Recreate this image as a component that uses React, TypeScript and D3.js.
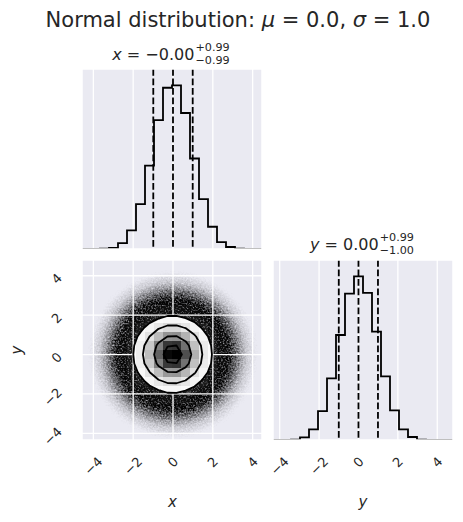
import React from "react";
import * as d3 from "d3";

// ---------------- data ----------------
const titleParts = ["Normal distribution: ", "μ", " = 0.0, ", "σ", " = 1.0"];
const paramNames = ["x", "y"];
const xRange = [-4.57, 4.47];
const yRange = [-4.34, 4.8];
const tickValues = [-4, -2, 0, 2, 4];
const xCounts = [0, 0, 30, 110, 650, 2040, 4900, 9120, 14090, 17620, 17880, 14860, 9890, 5450, 2430, 760, 220, 30, 0, 0];
const yCounts = [0, 0, 30, 290, 1170, 3160, 6760, 11520, 16060, 17950, 16130, 11880, 6980, 3240, 1170, 330, 30, 0, 0, 0];
const xQuantiles = [-0.99, 0.0, 0.99];
const yQuantiles = [-1.0, 0.0, 0.99];
const xTitleValues = ["−0.00", "+0.99", "−0.99"];
const yTitleValues = ["0.00", "+0.99", "−1.00"];
const sigmaLevels = [0.5, 1.0, 1.5, 2.0];
// scatter cloud opacity vs radius (data units)
const cloudRadius = [0, 2.5, 2.8, 3.1, 3.4, 3.7, 4.1, 4.6];
const cloudOpacity = [0.9, 0.9, 0.8, 0.56, 0.32, 0.15, 0.05, 0];

// ---------------- style / layout ----------------
const FONT = "'DejaVu Sans', sans-serif";
const TEXT = "#262626";
const BG = "#EAEAF2";
const NB = 20;
const S = 180;
const COLX = [82, 273];
const ROWY = [69, 260];

function measure(text: string, size: number, italic = false) {
  const c = document.createElement("canvas").getContext("2d")!;
  c.font = `${italic ? "italic " : ""}${size}px 'DejaVu Sans'`;
  return c.measureText(text).width;
}

function ParamTitle({ cx, baseline, name, vals }: any) {
  const fs = 16, fss = 11.2;
  const wName = measure(name, fs, true);
  const rest = ` = ${vals[0]}`;
  const wRest = measure(rest, fs);
  const wSup = measure(vals[1], fss);
  const wSub = measure(vals[2], fss);
  const total = wName + wRest + 1 + Math.max(wSup, wSub);
  const x0 = cx - total / 2;
  const xs = x0 + wName + wRest + 1;
  return (
    <g fontFamily={FONT} fill={TEXT}>
      <text x={x0} y={baseline} fontSize={fs}>
        <tspan fontStyle="italic">{name}</tspan>
        {rest}
      </text>
      <text x={xs} y={baseline - 9} fontSize={fss}>{vals[1]}</text>
      <text x={xs} y={baseline + 4} fontSize={fss}>{vals[2]}</text>
    </g>
  );
}

function Hist1D({ counts, range, quantiles, left, top, clipId }: any) {
  const xs = d3.scaleLinear().domain(range).range([left, left + S]);
  const ys = d3.scaleLinear().domain([0, 1.1 * (d3.max(counts) as number)]).range([top + S, top]);
  const bw = (range[1] - range[0]) / NB;
  const pts: [number, number][] = [[xs(range[0]), ys(0)]];
  counts.forEach((c: number, i: number) => {
    pts.push([xs(range[0] + i * bw), ys(c)]);
    pts.push([xs(range[0] + (i + 1) * bw), ys(c)]);
  });
  pts.push([xs(range[1]), ys(0)]);
  const line = d3.line();
  return (
    <g>
      <defs>
        <clipPath id={clipId}><rect x={left} y={top} width={S} height={S} /></clipPath>
      </defs>
      <rect x={left} y={top} width={S} height={S} fill={BG} />
      <g clipPath={`url(#${clipId})`}>
        {tickValues.map((t) => (
          <line key={t} x1={xs(t)} x2={xs(t)} y1={top} y2={top + S} stroke="#fff" strokeWidth={1.3} />
        ))}
        <path d={line(pts)!} fill="none" stroke="#000" strokeWidth={1.8} strokeLinejoin="miter" />
        {quantiles.map((q: number, i: number) => (
          <line key={i} x1={xs(q)} x2={xs(q)} y1={top} y2={top + S} stroke="#000" strokeWidth={1.8} strokeDasharray="6.7 2.8" />
        ))}
      </g>
      <rect x={left} y={top} width={S} height={S} fill="none" stroke="#fff" strokeWidth={1.5} />
    </g>
  );
}

function Hist2D() {
  const left = COLX[0], top = ROWY[1];
  const xs = d3.scaleLinear().domain(xRange).range([left, left + S]);
  const ys = d3.scaleLinear().domain(yRange).range([top + S, top]);
  const bwx = (xRange[1] - xRange[0]) / NB;
  const bwy = (yRange[1] - yRange[0]) / NB;
  // 2D histogram (independent marginals)
  const values: number[] = new Array(NB * NB);
  for (let j = 0; j < NB; j++) for (let i = 0; i < NB; i++) values[j * NB + i] = xCounts[i] * yCounts[j];
  const Hmax = d3.max(values) as number;
  // corner levels
  const levels = sigmaLevels.map((s) => 1 - Math.exp(-0.5 * s * s));
  const flat = values.slice().sort((a, b) => b - a);
  const tot = d3.sum(flat);
  let cum = 0;
  const sm = flat.map((v) => (cum += v) / tot);
  const V = levels.map((l) => {
    let last = flat[0];
    for (let k = 0; k < flat.length; k++) if (sm[k] <= l) last = flat[k];
    return last;
  }).sort((a, b) => a - b);
  const contours = d3.contours().size([NB, NB]).thresholds(V)(values);
  const toPath = (mp: any) =>
    mp.coordinates
      .map((poly: any) =>
        poly
          .map((ring: any) =>
            "M" + ring.map((p: number[]) => `${xs(xRange[0] + p[0] * bwx)},${ys(yRange[0] + p[1] * bwy)}`).join("L") + "Z"
          )
          .join("")
      )
      .join("");
  const cells: any[] = [];
  for (let j = 0; j < NB; j++)
    for (let i = 0; i < NB; i++) {
      const s = values[j * NB + i] / Hmax;
      if (s < 0.002) continue;
      const g = Math.round(255 * (1 - s));
      const x1 = xs(xRange[0] + i * bwx), x2 = xs(xRange[0] + (i + 1) * bwx);
      const y1 = ys(yRange[0] + (j + 1) * bwy), y2 = ys(yRange[0] + j * bwy);
      cells.push(<rect key={`${i}-${j}`} x={x1} y={y1} width={x2 - x1} height={y2 - y1} fill={`rgb(${g},${g},${g})`} fillOpacity={s} />);
    }
  const R = cloudRadius[cloudRadius.length - 1];
  return (
    <g>
      <defs>
        <clipPath id="clip2d"><rect x={left} y={top} width={S} height={S} /></clipPath>
        <radialGradient id="cloud" cx="0.5" cy="0.5" r="0.5">
          {cloudRadius.map((r, k) => (
            <stop key={k} offset={r / R} stopColor="#000" stopOpacity={cloudOpacity[k]} />
          ))}
        </radialGradient>
        <filter id="speckle" filterUnits="userSpaceOnUse" x={left} y={top} width={S} height={S} colorInterpolationFilters="sRGB">
          <feTurbulence type="fractalNoise" baseFrequency="0.6" numOctaves="2" seed="7" result="noise" />
          <feColorMatrix in="noise" type="matrix" values="0 0 0 0 0  0 0 0 0 0  0 0 0 0 0  1 0 0 0 0" result="na" />
          <feComposite in="SourceGraphic" in2="na" operator="arithmetic" k1="1.6" k2="0.2" k3="0" k4="0" result="mix" />
          <feComponentTransfer in="mix">
            <feFuncA type="linear" slope="1.15" intercept="-0.04" />
          </feComponentTransfer>
        </filter>
      </defs>
      <rect x={left} y={top} width={S} height={S} fill={BG} />
      <g clipPath="url(#clip2d)">
        <g filter="url(#speckle)">
          <rect x={xs(-R)} y={ys(R)} width={xs(R) - xs(-R)} height={ys(-R) - ys(R)} fill="url(#cloud)" />
        </g>
        {tickValues.map((t) => (
          <line key={"v" + t} x1={xs(t)} x2={xs(t)} y1={top} y2={top + S} stroke="#fff" strokeWidth={1.3} />
        ))}
        {tickValues.map((t) => (
          <line key={"h" + t} y1={ys(t)} y2={ys(t)} x1={left} x2={left + S} stroke="#fff" strokeWidth={1.3} />
        ))}
        <path d={toPath(contours[0])} fill="#fff" />
        {cells}
        {contours.map((c, k) => (
          <path key={k} d={toPath(c)} fill="none" stroke="#000" strokeWidth={1.8} strokeLinejoin="round" />
        ))}
      </g>
      <rect x={left} y={top} width={S} height={S} fill="none" stroke="#fff" strokeWidth={1.5} />
    </g>
  );
}

function XTickLabels({ scale, topY }: any) {
  const fs = 13;
  const h = fs * 1.16;
  return (
    <g fontFamily={FONT} fontSize={fs} fill={TEXT}>
      {tickValues.map((t) => {
        const label = d3.format("")(t).replace("-", "−");
        const w = measure(label, fs);
        const cx = scale(t);
        const cy = topY + (w + h) * 0.3536;
        return (
          <text key={t} x={cx} y={cy} textAnchor="middle" dominantBaseline="central" transform={`rotate(-45 ${cx} ${cy})`}>
            {label}
          </text>
        );
      })}
    </g>
  );
}

function YTickLabels({ scale, rightX }: any) {
  const fs = 13;
  const h = fs * 1.16;
  return (
    <g fontFamily={FONT} fontSize={fs} fill={TEXT}>
      {tickValues.map((t) => {
        const label = d3.format("")(t).replace("-", "−");
        const w = measure(label, fs);
        const cx = rightX - (w + h) * 0.3536;
        const cy = scale(t) + 3;
        return (
          <text key={t} x={cx} y={cy} textAnchor="middle" dominantBaseline="central" transform={`rotate(-45 ${cx} ${cy})`}>
            {label}
          </text>
        );
      })}
    </g>
  );
}

export default function App() {
  const xsBottom = d3.scaleLinear().domain(xRange).range([COLX[0], COLX[0] + S]);
  const ysLeft = d3.scaleLinear().domain(yRange).range([ROWY[1] + S, ROWY[1]]);
  const yHistX = d3.scaleLinear().domain(yRange).range([COLX[1], COLX[1] + S]);
  return (
    <svg width={463} height={522} style={{ position: "absolute", left: 0, top: 0, background: "#fff" }}>
      <text x={238} y={27} fontFamily={FONT} fontSize={21} fill={TEXT} textAnchor="middle">
        {titleParts.map((p, i) => (
          <tspan key={i} fontStyle={i === 1 || i === 3 ? "italic" : "normal"}>{p}</tspan>
        ))}
      </text>
      <Hist1D counts={xCounts} range={xRange} quantiles={xQuantiles} left={COLX[0]} top={ROWY[0]} clipId="c1" />
      <Hist1D counts={yCounts} range={yRange} quantiles={yQuantiles} left={COLX[1]} top={ROWY[1]} clipId="c2" />
      <Hist2D />
      <ParamTitle cx={COLX[0] + S / 2 - 1} baseline={ROWY[0] - 9} name={paramNames[0]} vals={xTitleValues} />
      <ParamTitle cx={COLX[1] + S / 2 - 1} baseline={ROWY[1] - 10} name={paramNames[1]} vals={yTitleValues} />
      <XTickLabels scale={xsBottom} topY={454} />
      <XTickLabels scale={yHistX} topY={454} />
      <YTickLabels scale={ysLeft} rightX={65} />
      <g fontFamily={FONT} fontSize={15} fill={TEXT} fontStyle="italic" textAnchor="middle">
        <text x={172.5} y={507}>{paramNames[0]}</text>
        <text x={363} y={507}>{paramNames[1]}</text>
        <text x={0} y={0} transform={`translate(22 350) rotate(-90)`}>{paramNames[1]}</text>
      </g>
    </svg>
  );
}
